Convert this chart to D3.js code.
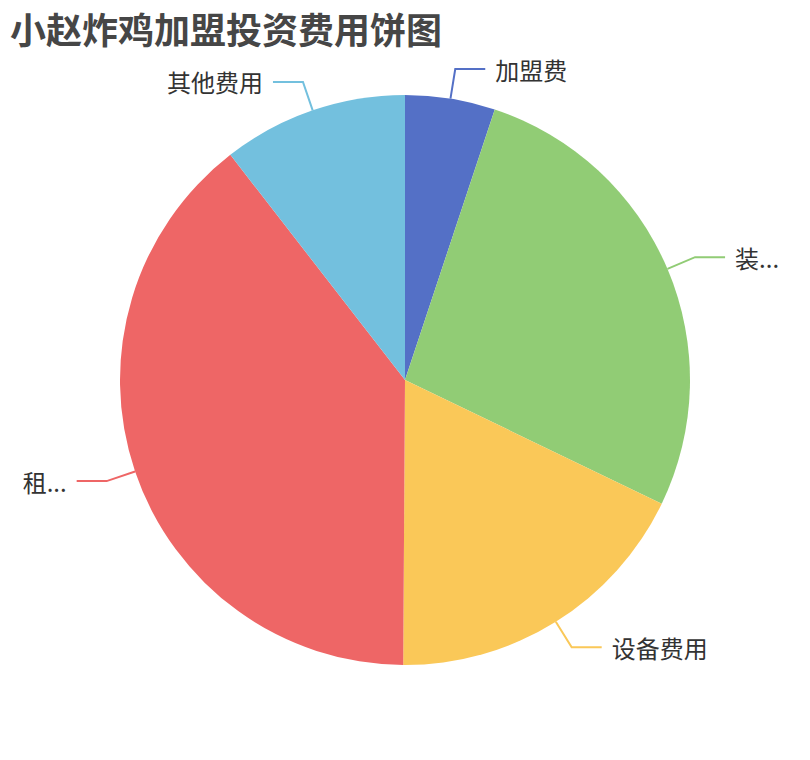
<!DOCTYPE html>
<html lang="zh">
<head>
    <meta charset="UTF-8">
    <title>小赵炸鸡加盟投资费用饼图</title>
    <script src="https://d3js.org/d3.v7.min.js"></script>
    <style>
        * {
            margin: 0;
            padding: 0;
        }
        body {
            background: #fff;
        }
        text {
            font-family: "Noto Sans CJK SC", "Noto Sans", sans-serif;
        }
    </style>
</head>
<body>
    <svg id="chart" width="810" height="760"></svg>
    <script>
        var categories = ["加盟费", "装修费用", "设备费用", "租金费用", "其他费用"];
        var values = [5.1, 27.05, 17.95, 39.4, 10.5];
        var colors = ["#5470c6", "#91cc75", "#fac858", "#ee6666", "#73c0de"];

        var width = 810,
            height = 760;
        var cx = width / 2,
            cy = height / 2;
        var radius = Math.min(width, height) / 2 * 0.75;
        var len1 = 30,
            len2 = 30,
            gap = 10;

        var svg = d3.select("#chart");

        svg.append("text")
            .attr("x", 10)
            .attr("y", 28)
            .attr("dominant-baseline", "central")
            .attr("font-size", 36)
            .attr("font-weight", "bold")
            .attr("fill", "#464646")
            .text("小赵炸鸡加盟投资费用饼图");

        var pie = d3.pie().sort(null).value(function (d) { return d; });
        var piedata = pie(values);

        var arc = d3.arc().innerRadius(0).outerRadius(radius);

        var main = svg.append("g").attr("transform", "translate(" + cx + "," + cy + ")");

        main.append("g").selectAll("path")
            .data(piedata)
            .enter()
            .append("path")
            .attr("fill", function (d, i) { return colors[i]; })
            .attr("d", arc);

        function midAngle(d) {
            return (d.startAngle + d.endAngle) / 2;
        }

        // label line: radial segment, then horizontal segment
        function linePoints(d) {
            var a = midAngle(d);
            var s = Math.sin(a), c = -Math.cos(a);
            var p0 = [radius * s, radius * c];
            var p1 = [(radius + len1) * s, (radius + len1) * c];
            var p2 = [p1[0] + (s >= 0 ? len2 : -len2), p1[1]];
            return [p0, p1, p2];
        }

        main.append("g").selectAll("polyline")
            .data(piedata)
            .enter()
            .append("polyline")
            .attr("fill", "none")
            .attr("stroke", function (d, i) { return colors[i]; })
            .attr("stroke-width", 2)
            .attr("points", function (d) { return linePoints(d).join(" "); });

        var labels = main.append("g").selectAll("text")
            .data(piedata)
            .enter()
            .append("text")
            .attr("font-size", 24)
            .attr("fill", "#333")
            .attr("dominant-baseline", "central")
            .attr("text-anchor", function (d) { return Math.sin(midAngle(d)) >= 0 ? "start" : "end"; })
            .attr("x", function (d) {
                var p = linePoints(d)[2];
                return p[0] + (Math.sin(midAngle(d)) >= 0 ? gap : -gap);
            })
            .attr("y", function (d) { return linePoints(d)[1][1]; })
            .text(function (d, i) { return categories[i]; });

        // truncate labels that run past the chart edge
        labels.each(function (d) {
            var el = d3.select(this);
            var right = Math.sin(midAngle(d)) >= 0;
            var x = +el.attr("x") + cx;
            var avail = right ? (width - 10) - x : x - 10;
            var full = el.text();
            if (this.getComputedTextLength() <= avail) return;
            var n = full.length - 1;
            el.text(full.slice(0, n) + "...");
            while (n > 1 && this.getComputedTextLength() > avail) {
                n--;
                el.text(full.slice(0, n) + "...");
            }
        });
    </script>
</body>
</html>
